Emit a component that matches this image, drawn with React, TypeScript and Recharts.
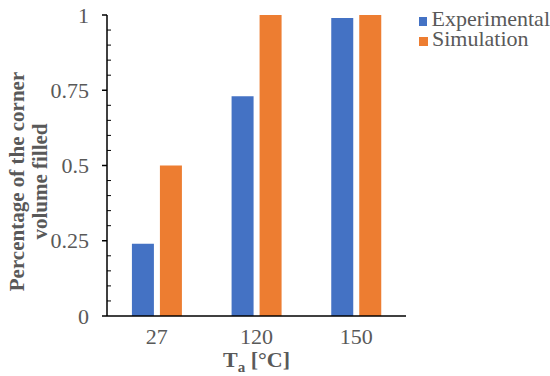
import { BarChart, Bar, XAxis, YAxis, Legend } from 'recharts'

const categories = ['27', '120', '150']
const experimental = [0.24, 0.73, 0.99]
const simulation = [0.5, 1, 1]
const yTicks = [
  0, 0.05, 0.1, 0.15, 0.2, 0.25, 0.3, 0.35, 0.4, 0.45, 0.5, 0.55, 0.6, 0.65,
  0.7, 0.75, 0.8, 0.85, 0.9, 0.95, 1,
]
const yLabels = [0, 0.25, 0.5, 0.75, 1]

const data = categories.map((c, i) => ({
  name: c,
  Experimental: experimental[i],
  Simulation: simulation[i],
}))

const textColor = '#595959'
const font = "'Times New Roman', 'Liberation Serif', serif"

const YTick = (props: any) => {
  const { x, y, payload } = props
  const major = yLabels.includes(payload.value)
  return (
    <g>
      {major ? (
        <>
          <line x1={x - 5} x2={x} y1={y} y2={y} stroke='#000' strokeWidth={1.5} />
          <text
            x={x - 18}
            y={y}
            dy='0.35em'
            textAnchor='end'
            style={{ fill: textColor, fontSize: 22, fontFamily: font }}
          >
            {payload.value}
          </text>
        </>
      ) : (
        <line x1={x} x2={x + 4} y1={y} y2={y} stroke='#000' strokeWidth={1} />
      )}
    </g>
  )
}

const YTitle = (props: any) => {
  const { viewBox } = props
  const cy = viewBox.y + viewBox.height / 2 + 16
  return (
    <text
      transform={`rotate(-90, 28, ${cy})`}
      x={28}
      y={cy}
      textAnchor='middle'
      style={{
        fill: textColor,
        fontSize: 21,
        fontWeight: 'bold',
        fontFamily: font,
      }}
    >
      <tspan x={28} dy='-4'>Percentage of the corner</tspan>
      <tspan x={28} dy='23'>volume filled</tspan>
    </text>
  )
}

const XTitle = (props: any) => {
  const { viewBox } = props
  const cx = viewBox.x + viewBox.width / 2
  return (
    <text
      x={cx}
      y={viewBox.y + 51}
      textAnchor='middle'
      style={{
        fill: textColor,
        fontSize: 22,
        fontWeight: 'bold',
        fontFamily: font,
      }}
    >
      T<tspan style={{ fontSize: 15 }} dy='5'>a</tspan>
      <tspan dy='-5'> [°C]</tspan>
    </text>
  )
}

const LegendContent = (props: any) => {
  const { payload } = props
  return (
    <div
      style={{
        fontFamily: font,
        fontSize: 22,
        lineHeight: '20px',
        color: textColor,
      }}
    >
      {payload.map((p: any) => (
        <div
          key={p.value}
          style={{ display: 'flex', alignItems: 'center', height: 20 }}
        >
          <span
            style={{
              display: 'inline-block',
              width: 9,
              height: 9,
              background: p.color,
              marginRight: 4,
              marginTop: 4,
            }}
          />
          <span>{p.value}</span>
        </div>
      ))}
    </div>
  )
}

export default function App() {
  return (
    <div style={{ position: 'absolute', left: 0, top: 0 }}>
      <BarChart
        width={550}
        height={376}
        data={data}
        margin={{ top: 15, right: 144, bottom: 0, left: 0 }}
        barGap={6}
        barCategoryGap='25%'
      >
        <XAxis
          dataKey='name'
          height={60}
          tickLine={false}
          tickSize={0}
          tickMargin={12}
          axisLine={{ stroke: '#000', strokeWidth: 1.5 }}
          tick={{ fill: textColor, fontSize: 22, fontFamily: font }}
          label={<XTitle />}
        />
        <YAxis
          width={107}
          domain={[0, 1]}
          ticks={yTicks}
          interval={0}
          tickLine={false}
          tickSize={0}
          tickMargin={0}
          axisLine={{ stroke: '#000', strokeWidth: 1.5 }}
          tick={<YTick />}
          label={<YTitle />}
        />
        <Legend
          layout='vertical'
          align='center'
          verticalAlign='middle'
          content={<LegendContent />}
          wrapperStyle={{ left: 419, top: 9, width: 131 }}
        />
        <Bar
          dataKey='Experimental'
          fill='#4472C4'
          legendType='square'
          isAnimationActive={false}
        />
        <Bar
          dataKey='Simulation'
          fill='#ED7D31'
          legendType='square'
          isAnimationActive={false}
        />
      </BarChart>
    </div>
  )
}
